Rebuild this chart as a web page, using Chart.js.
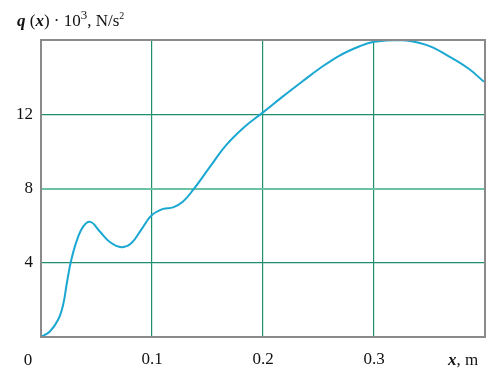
<!DOCTYPE html>
<html>
<head>
<meta charset="utf-8">
<script src="https://cdn.jsdelivr.net/npm/chart.js@4"></script>
<style>
  html, body { margin: 0; padding: 0; background: #fff; }
  #wrap { width: 497px; height: 375px; }
</style>
</head>
<body>
<div id="wrap"><canvas id="myChart" width="497" height="375"></canvas></div>
<script>
// x positions (m) and q(x)*10^3 values
const xValues = [0, 0.008, 0.0155, 0.020, 0.023, 0.0267, 0.032, 0.038, 0.0446, 0.053, 0.062, 0.0725,
	0.0815, 0.0905, 0.0995, 0.110, 0.119, 0.128, 0.137, 0.152, 0.167, 0.183, 0.200,
	0.2177, 0.2357, 0.2507, 0.2686, 0.2866, 0.300, 0.3226, 0.3465, 0.3675, 0.3854, 0.399];
const qValues = [0, 0.3, 0.94, 1.75, 2.8, 4.0, 5.15, 5.95, 6.2, 5.68, 5.12, 4.84,
	5.06, 5.8, 6.55, 6.9, 6.98, 7.3, 7.92, 9.15, 10.35, 11.3, 12.1,
	12.95, 13.78, 14.45, 15.15, 15.65, 15.9, 16.0, 15.75, 15.12, 14.45, 13.75];
const xTicks = [0, 0.1, 0.2, 0.3, 0.4];
const yTicks = [0, 4, 8, 12, 16];

const serif = '"Liberation Serif", "DejaVu Serif", serif';
const points = xValues.map((x, i) => ({ x: x, y: qValues[i] }));

// frame + extra labels
const decor = {
	id: 'decor',
	afterDraw(chart) {
		const ctx = chart.ctx;
		const a = chart.chartArea;
		ctx.save();
		ctx.strokeStyle = '#8a8a8a';
		ctx.lineWidth = 2;
		ctx.strokeRect(a.left, a.top, a.right - a.left, a.bottom - a.top);

		ctx.fillStyle = '#111';
		ctx.textBaseline = 'alphabetic';
		ctx.textAlign = 'center';
		ctx.font = '17px ' + serif;
		ctx.fillText('0', 28, 365);

		// x axis label
		ctx.textAlign = 'left';
		let px = 448;
		ctx.font = 'bold italic 17px ' + serif;
		ctx.fillText('x', px, 365);
		px += ctx.measureText('x').width;
		ctx.font = '17px ' + serif;
		ctx.fillText(', m', px, 365);

		// y axis title
		const parts = [
			['q', 'bold italic 17px ', 0],
			[' (', '17px ', 0],
			['x', 'bold italic 17px ', 0],
			[')', '17px ', 0],
			[' \u00b7 10', '17px ', 0],
			['3', '13px ', -7],
			[', N/s', '17px ', 0],
			['2', '10px ', -7]
		];
		px = 17;
		parts.forEach(p => {
			ctx.font = p[1] + serif;
			ctx.fillText(p[0], px, 26 + p[2]);
			px += ctx.measureText(p[0]).width;
		});
		ctx.restore();
	}
};

const gridColor = (c) => (c.tick && c.tick.value === 8) ? '#6cc3a4' : '#1f8f70';

new Chart(document.getElementById('myChart'), {
	type: 'line',
	data: {
		datasets: [{
			data: points,
			borderColor: '#1aa7d2',
			borderWidth: 2,
			pointRadius: 0,
			fill: false,
			tension: 0.4
		}]
	},
	options: {
		responsive: false,
		animation: false,
		layout: { padding: { top: 40, right: 11, left: 0, bottom: 0 } },
		plugins: { legend: { display: false }, tooltip: { enabled: false } },
		scales: {
			x: {
				type: 'linear',
				min: 0,
				max: 0.4,
				afterBuildTicks: (s) => { s.ticks = xTicks.map(v => ({ value: v })); },
				afterFit: (s) => { s.height = 38; },
				border: { display: false },
				grid: {
					drawTicks: false,
					color: (c) => (c.tick && (c.tick.value === 0 || c.tick.value === 0.4)) ? 'rgba(0,0,0,0)' : '#1f8f70',
					lineWidth: 1.2
				},
				ticks: {
					padding: 12,
					color: '#111',
					font: { family: serif, size: 17 },
					callback: (v) => (v === 0 || v === 0.4) ? '' : String(v)
				}
			},
			y: {
				min: 0,
				max: 16,
				afterBuildTicks: (s) => { s.ticks = yTicks.map(v => ({ value: v })); },
				afterFit: (s) => { s.width = 41; },
				border: { display: false },
				grid: {
					drawTicks: false,
					color: (c) => (c.tick && (c.tick.value === 0 || c.tick.value === 16)) ? 'rgba(0,0,0,0)' : gridColor(c),
					lineWidth: (c) => (c.tick && c.tick.value === 8) ? 2 : 1.2
				},
				ticks: {
					padding: 8,
					color: '#111',
					font: { family: serif, size: 17 },
					callback: (v) => (v === 0 || v === 16) ? '' : String(v)
				}
			}
		}
	},
	plugins: [decor]
});
</script>
</body>
</html>
